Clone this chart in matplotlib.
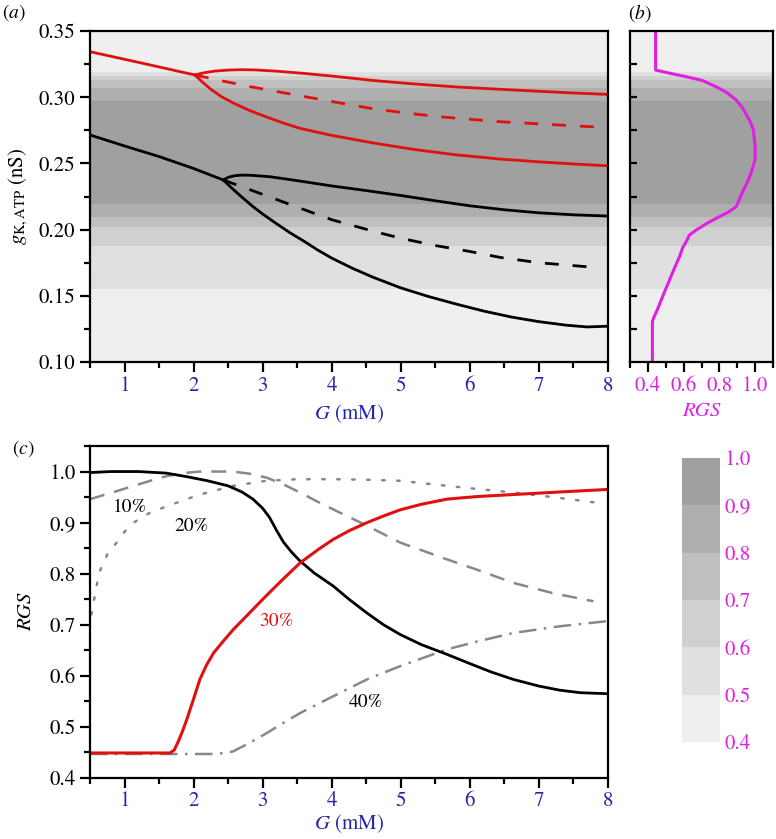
import numpy as np
import matplotlib
matplotlib.use('Agg')
from matplotlib import pyplot as plt
from matplotlib.ticker import MultipleLocator, FormatStrFormatter

plt.rcParams['font.family'] = ['STIXGeneral', 'DejaVu Serif']
plt.rcParams['mathtext.fontset'] = 'stix'

# (b) RGS en fonction de g_K,ATP (sert aussi aux bandes grises)
g_b = [0.100, 0.1305, 0.1333, 0.1406, 0.1514, 0.162, 0.1711, 0.1796, 0.1862, 0.1909,
       0.196, 0.1997, 0.205, 0.2098, 0.2133, 0.2173, 0.2284, 0.236, 0.2435, 0.2526,
       0.2626, 0.2753, 0.2828, 0.2919, 0.2979, 0.3032, 0.3067, 0.3126, 0.3155, 0.318,
       0.3203, 0.3205, 0.350]
rgs_b = [0.425, 0.425, 0.432, 0.456, 0.488, 0.521, 0.549, 0.577, 0.594, 0.614,
         0.633, 0.670, 0.733, 0.80, 0.851, 0.894, 0.929, 0.957, 0.979, 0.999,
         1.0, 0.990, 0.968, 0.929, 0.894, 0.845, 0.80, 0.706, 0.614, 0.527,
         0.45, 0.443, 0.443]
rgs_levels = [0.4, 0.5, 0.6, 0.7, 0.8, 0.9, 1.0]
band_colors = ['#efefef', '#e0e0e0', '#d0d0d0', '#bfbfbf', '#afafaf', '#a0a0a0']

# (a) diagramme de bifurcation
G_red_pre = [0.5, 1.25, 2.02]
g_red_pre = [0.3344, 0.3258, 0.3168]
G_red_up = [2.02, 2.15, 2.3, 2.5, 2.7, 2.9, 3.2, 3.6, 4.0, 4.63, 5.2, 5.8, 6.44, 7.0, 7.5, 7.97]
g_red_up = [0.3168, 0.3185, 0.3197, 0.3205, 0.3208, 0.3206, 0.3197, 0.318, 0.316, 0.3125,
            0.310, 0.3078, 0.306, 0.3045, 0.3032, 0.3022]
G_red_mid = [2.02, 2.4, 2.82, 3.5, 4.0, 4.63, 5.5, 6.44, 7.9]
g_red_mid = [0.3168, 0.3125, 0.308, 0.3015, 0.2968, 0.291, 0.2855, 0.2815, 0.2773]
G_red_low = [2.02, 2.12, 2.25, 2.4, 2.6, 2.82, 3.06, 3.3, 3.54, 4.0, 4.63, 5.2, 5.8, 6.44,
             7.0, 7.5, 7.97]
g_red_low = [0.3168, 0.3118, 0.306, 0.3005, 0.295, 0.2898, 0.285, 0.2805, 0.2765, 0.2712,
             0.2652, 0.2605, 0.2565, 0.2533, 0.2512, 0.2496, 0.2483]

G_blk_pre = [0.5, 1.0, 1.5, 2.0, 2.43]
g_blk_pre = [0.2715, 0.2632, 0.2552, 0.2462, 0.2375]
G_blk_up = [2.43, 2.5, 2.6, 2.7, 2.85, 3.1, 3.5, 4.0, 4.5, 5.0, 5.5, 6.0, 6.5, 7.0, 7.5, 7.97]
g_blk_up = [0.2375, 0.2395, 0.2408, 0.2412, 0.241, 0.240, 0.237, 0.233, 0.2295, 0.2258,
            0.2218, 0.218, 0.215, 0.2127, 0.2112, 0.2103]
G_blk_mid = [2.43, 2.96, 3.5, 4.0, 4.63, 5.0, 5.5, 6.0, 6.44, 7.0, 7.69]
g_blk_mid = [0.2375, 0.2274, 0.217, 0.2075, 0.1984, 0.1935, 0.188, 0.1835, 0.179, 0.175, 0.172]
G_blk_low = [2.43, 2.55, 2.7, 2.85, 3.0, 3.2, 3.4, 3.6, 3.8, 4.0, 4.3, 4.6, 5.0, 5.4, 5.8,
             6.2, 6.6, 7.0, 7.4, 7.7, 7.97]
g_blk_low = [0.2375, 0.2315, 0.2245, 0.2178, 0.2118, 0.2045, 0.1975, 0.1912, 0.1845, 0.1785,
             0.1708, 0.164, 0.156, 0.1495, 0.1438, 0.1385, 0.134, 0.1305, 0.1278, 0.1265,
             0.127]

# (c) RGS en fonction de G
G_c_blk = [0.5, 0.8, 1.2, 1.6, 1.9, 2.2, 2.5, 2.7, 2.86, 3.0, 3.1, 3.2, 3.3, 3.42, 3.54,
           3.75, 4.02, 4.25, 4.51, 4.75, 4.99, 5.3, 5.67, 6.0, 6.3, 6.63, 7.0, 7.3, 7.6, 8.0]
rgs_c_blk = [0.998, 1.0, 1.0, 0.997, 0.99, 0.982, 0.972, 0.96, 0.946, 0.928, 0.91, 0.885,
             0.862, 0.842, 0.825, 0.801, 0.776, 0.75, 0.723, 0.70, 0.681, 0.661, 0.642,
             0.624, 0.608, 0.593, 0.58, 0.572, 0.567, 0.565]
G_c_red = [0.5, 1.66, 1.72, 1.78, 1.84, 1.90, 2.0, 2.09, 2.19, 2.29, 2.43, 2.57, 2.8, 3.06,
           3.3, 3.54, 3.8, 4.02, 4.25, 4.51, 4.75, 4.99, 5.3, 5.67, 6.1, 6.63, 7.3, 8.0]
rgs_c_red = [0.449, 0.449, 0.455, 0.472, 0.492, 0.514, 0.555, 0.593, 0.622, 0.645, 0.668,
             0.69, 0.722, 0.758, 0.79, 0.821, 0.847, 0.867, 0.884, 0.9, 0.913, 0.925,
             0.936, 0.946, 0.951, 0.955, 0.96, 0.965]
G_c_10 = [0.5, 0.8, 1.13, 1.4, 1.61, 1.85, 2.09, 2.57, 2.8, 3.06, 3.3, 3.54, 3.78, 4.02,
          4.51, 4.99, 5.3, 5.67, 6.1, 6.63, 7.2, 7.79]
rgs_c_10 = [0.946, 0.958, 0.972, 0.983, 0.991, 0.997, 1.0, 1.0, 0.996, 0.988, 0.975, 0.959,
            0.942, 0.926, 0.894, 0.861, 0.846, 0.828, 0.808, 0.782, 0.762, 0.746]
G_c_20 = [0.52, 0.56, 0.6, 0.645, 0.75, 0.886, 1.0, 1.13, 1.35, 1.61, 2.09, 2.57, 3.06,
          3.5, 4.02, 4.5, 4.99, 5.67, 6.1, 6.63, 7.2, 7.84]
rgs_c_20 = [0.72, 0.75, 0.78, 0.806, 0.838, 0.861, 0.882, 0.9, 0.918, 0.932, 0.955, 0.972,
            0.982, 0.985, 0.985, 0.984, 0.982, 0.972, 0.966, 0.959, 0.95, 0.939]
G_c_40 = [0.5, 2.3, 2.45, 2.57, 2.8, 3.06, 3.3, 3.54, 4.02, 4.51, 4.99, 5.67, 6.1, 6.63,
          7.3, 7.98]
rgs_c_40 = [0.447, 0.447, 0.449, 0.452, 0.468, 0.488, 0.508, 0.527, 0.56, 0.593, 0.619,
            0.652, 0.667, 0.684, 0.697, 0.707]

labels_c = ['10%', '20%', '30%', '40%']
labels_c_pos = [(1.08, 0.93), (1.97, 0.892), (3.20, 0.707), (4.49, 0.547)]
labels_c_col = ['black', 'black', '#e01010', 'black']

RED = '#e01010'
MAG = '#e020e0'
BLUE = '#2525a8'

fig = plt.figure(figsize=(7.76, 8.39), dpi=100)
ax_a = fig.add_axes([0.116, 0.5685, 0.6675, 0.3945])
ax_b = fig.add_axes([0.8119, 0.5685, 0.1843, 0.3945])
ax_c = fig.add_axes([0.116, 0.0727, 0.6675, 0.3957])
cax = fig.add_axes([0.879, 0.1156, 0.049, 0.3385])

# bandes grises
Z = np.tile(np.array(rgs_b)[:, None], (1, 2))
cs = ax_a.contourf([0.5, 8], g_b, Z, levels=rgs_levels, colors=band_colors)
ax_b.contourf([0.3, 1.1], g_b, Z, levels=rgs_levels, colors=band_colors)

lw = 2.0
ax_a.plot(G_red_pre, g_red_pre, color=RED, lw=lw)
ax_a.plot(G_red_up, g_red_up, color=RED, lw=lw)
ax_a.plot(G_red_mid, g_red_mid, color=RED, lw=lw, dashes=(5, 5))
ax_a.plot(G_red_low, g_red_low, color=RED, lw=lw)
ax_a.plot(G_blk_pre, g_blk_pre, color='k', lw=lw)
ax_a.plot(G_blk_up, g_blk_up, color='k', lw=lw)
ax_a.plot(G_blk_mid, g_blk_mid, color='k', lw=lw, dashes=(5, 5))
ax_a.plot(G_blk_low, g_blk_low, color='k', lw=lw)

ax_a.set_xlim(0.5, 8)
ax_a.set_ylim(0.10, 0.35)
ax_a.xaxis.set_major_locator(MultipleLocator(1))
ax_a.xaxis.set_minor_locator(MultipleLocator(0.5))
ax_a.yaxis.set_major_locator(MultipleLocator(0.05))
ax_a.yaxis.set_minor_locator(MultipleLocator(0.025))
ax_a.yaxis.set_major_formatter(FormatStrFormatter('%.2f'))
ax_a.set_xlabel('$G$ (mM)', color=BLUE, fontsize=15, labelpad=4)
ax_a.set_ylabel(r'$g_{\mathrm{K,ATP}}$ (nS)', fontsize=15, labelpad=6)

# (b)
ax_b.plot(rgs_b, g_b, color=MAG, lw=2.2)
ax_b.set_xlim(0.3, 1.1)
ax_b.set_ylim(0.10, 0.35)
ax_b.set_xticks([0.4, 0.6, 0.8, 1.0])
ax_b.xaxis.set_minor_locator(MultipleLocator(0.1))
ax_b.set_yticks(np.arange(0.125, 0.33, 0.025))
ax_b.set_yticklabels([])
ax_b.set_xlabel('RGS', color=MAG, fontsize=15, style='italic', labelpad=4)

# (c)
ax_c.plot(G_c_10, rgs_c_10, color='#888888', lw=1.8, dashes=(6, 4))
ax_c.plot(G_c_20, rgs_c_20, color='#888888', lw=1.8, dashes=(1, 5), dash_capstyle='round')
ax_c.plot(G_c_40, rgs_c_40, color='#888888', lw=1.8, dashes=(7, 3, 1, 3))
ax_c.plot(G_c_blk, rgs_c_blk, color='k', lw=2.0)
ax_c.plot(G_c_red, rgs_c_red, color=RED, lw=2.2)
for txt, (x, y), c in zip(labels_c, labels_c_pos, labels_c_col):
    ax_c.text(x, y, txt, color=c, fontsize=14, ha='center', va='center')
ax_c.set_xlim(0.5, 8)
ax_c.set_ylim(0.4, 1.05)
ax_c.xaxis.set_major_locator(MultipleLocator(1))
ax_c.xaxis.set_minor_locator(MultipleLocator(0.5))
ax_c.yaxis.set_major_locator(MultipleLocator(0.1))
ax_c.yaxis.set_minor_locator(MultipleLocator(0.05))
ax_c.set_xlabel('$G$ (mM)', color=BLUE, fontsize=15, labelpad=1)
ax_c.set_ylabel('RGS', fontsize=15, style='italic', labelpad=10)

for ax in (ax_a, ax_b, ax_c):
    for s in ax.spines.values():
        s.set_linewidth(1.6)
    ax.tick_params(which='major', length=7, width=1.6, labelsize=15)
    ax.tick_params(which='minor', length=4, width=1.6)
    ax.tick_params(axis='x', which='both', direction='out', top=False)
for ax in (ax_a, ax_c):
    ax.tick_params(axis='y', which='both', direction='out', right=False)
    ax.tick_params(axis='x', labelcolor=BLUE)
ax_c.tick_params(axis='x', which='major', pad=2.5)
ax_b.tick_params(axis='x', labelcolor=MAG)
ax_b.tick_params(axis='y', which='both', direction='in', length=5, right=False)

# barre de couleur
cb = fig.colorbar(cs, cax=cax, ticks=rgs_levels)
cb.outline.set_visible(False)
cb.ax.set_yticklabels(['%.1f' % v for v in rgs_levels])
cax.tick_params(length=0, labelcolor=MAG, labelsize=15, pad=3)

fig.text(0.003, 0.985, '($a$)', fontsize=14, va='center')
fig.text(0.809, 0.985, '($b$)', fontsize=14, va='center')
fig.text(0.016, 0.465, '($c$)', fontsize=14, va='center')

fig.savefig('out.png', dpi=100)
